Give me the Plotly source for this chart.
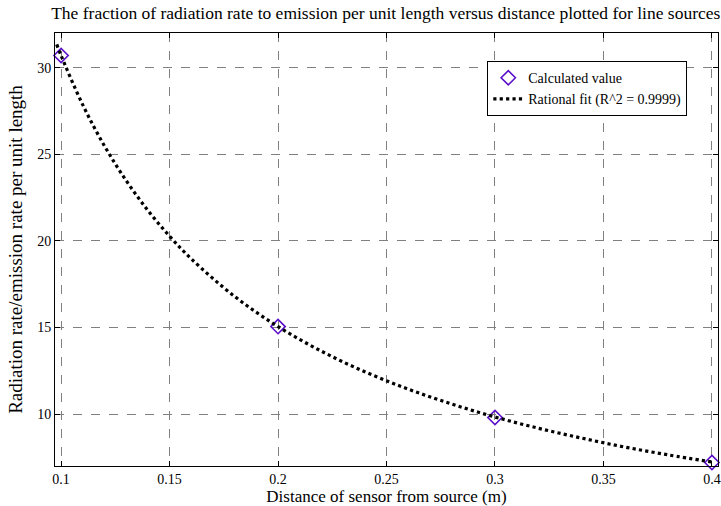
import plotly.graph_objects as go

# Calculated values (markers)
dist_calc = [0.1, 0.2, 0.3, 0.4]
ratio_calc = [30.7, 15.05, 9.8, 7.2]

# Rational fit curve
dist_fit = [0.098, 0.1, 0.11, 0.12, 0.13, 0.14, 0.15, 0.16, 0.18, 0.2, 0.22,
            0.24, 0.26, 0.28, 0.3, 0.32, 0.34, 0.36, 0.38, 0.4]
ratio_fit = [31.34, 30.7, 27.85, 25.48, 23.48, 21.76, 20.27, 18.96, 16.79, 15.05,
             13.63, 12.44, 11.44, 10.58, 9.83, 9.18, 8.61, 8.09, 7.64, 7.23]

x_ticks = [0.1, 0.15, 0.2, 0.25, 0.3, 0.35, 0.4]
x_tick_labels = ["0.1", "0.15", "0.2", "0.25", "0.3", "0.35", "0.4"]
y_ticks = [10, 15, 20, 25, 30]

FONT = "Liberation Serif"

fig = go.Figure()
fig.add_trace(go.Scatter(
    x=dist_calc, y=ratio_calc, mode="markers", name="Calculated value",
    marker=dict(symbol="diamond-open", size=11, color="#5a10c8",
                line=dict(width=1.6, color="#5a10c8")),
    cliponaxis=False))
fig.add_trace(go.Scatter(
    x=dist_fit, y=ratio_fit, mode="lines", name="Rational fit (R^2 = 0.9999)",
    line=dict(color="black", width=3.2, dash="dot", shape="spline")))

axis_common = dict(
    showline=True, linecolor="black", linewidth=1, mirror="allticks",
    ticks="inside", ticklen=5, tickcolor="black", tickwidth=1,
    showgrid=True, gridcolor="#808080", gridwidth=1, griddash="dash",
    zeroline=False, automargin=False,
    tickfont=dict(family=FONT, size=14, color="black"),
)

fig.update_xaxes(range=[0.0972, 0.4028], tickvals=x_ticks, ticktext=x_tick_labels,
                 title=dict(text="Distance of sensor from source (m)",
                            font=dict(family=FONT, size=17, color="black"), standoff=0),
                 **axis_common)
fig.update_yaxes(range=[7.0, 32.0], tickvals=y_ticks,
                 title=dict(text="Radiation rate/emission rate per unit length",
                            font=dict(family=FONT, size=19, color="black"), standoff=9),
                 **axis_common)

fig.update_layout(
    width=721, height=506,
    margin=dict(l=55, r=3, t=33, b=40),
    paper_bgcolor="white", plot_bgcolor="white",
    title=dict(text="The fraction of radiation rate to emission per unit length versus distance plotted for line sources",
               font=dict(family=FONT, size=17.5, color="black"),
               x=0.535, xanchor="center", y=0.974, yanchor="middle"),
    legend=dict(x=0.652, y=0.935, xanchor="left", yanchor="top",
                bgcolor="white", bordercolor="black", borderwidth=1,
                font=dict(family=FONT, size=14, color="black"),
                itemwidth=30, tracegroupgap=0),
    showlegend=True,
)

fig.write_html("out.html", config={"displayModeBar": False},
               post_script="document.body.style.margin='0';document.body.style.padding='0';")
